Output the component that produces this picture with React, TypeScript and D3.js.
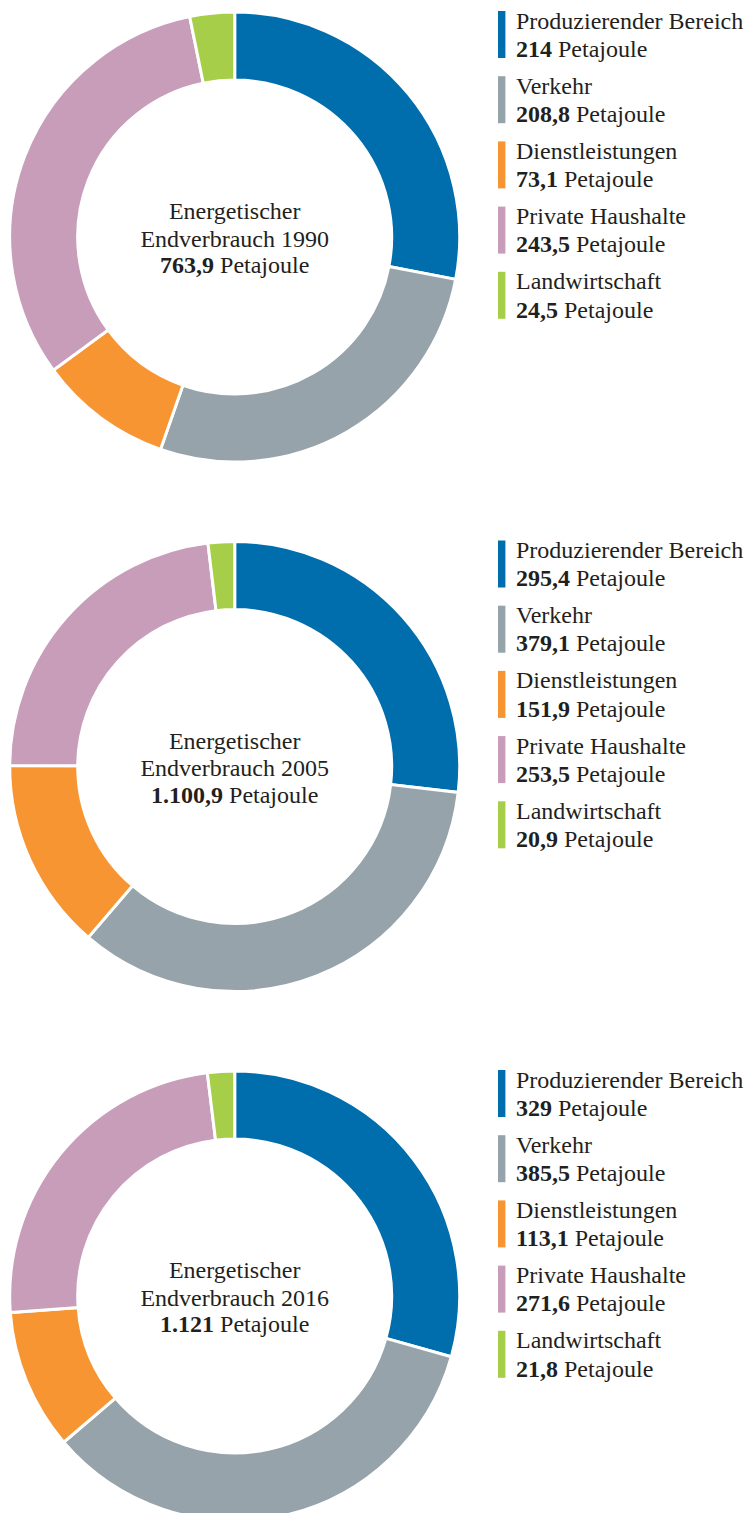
import React from "react";
import * as d3 from "d3";

const categories = [
  "Produzierender Bereich",
  "Verkehr",
  "Dienstleistungen",
  "Private Haushalte",
  "Landwirtschaft",
];
const colors = ["#006dac", "#96a3aa", "#f79533", "#c79dba", "#a7ce48"];
const years = ["1990", "2005", "2016"];
const values1990 = [214, 208.8, 73.1, 243.5, 24.5];
const values2005 = [295.4, 379.1, 151.9, 253.5, 20.9];
const values2016 = [329, 385.5, 113.1, 271.6, 21.8];
const totals = [763.9, 1100.9, 1121];
const seriesList = [values1990, values2005, values2016];

const W = 748;
const H = 1513;
const cx = 234.7;
const centersY = [237, 766.5, 1296];
const rOuter = 225;
const rInner = 157;
const textColor = "#231f20";
const font = "'Liberation Serif', 'DejaVu Serif', serif";

const locale = d3.formatLocale({
  decimal: ",",
  thousands: ".",
  grouping: [3],
  currency: ["", " €"],
});
const f0 = locale.format(",.0f");
const f1 = locale.format(",.1f");
const fmt = (v: number) => (Math.abs(v % 1) < 1e-9 ? f0(v) : f1(v));

export default function App() {
  const pie = d3
    .pie<number>()
    .sort(null)
    .value((d) => d)
    .startAngle(0)
    .endAngle(2 * Math.PI);
  const arc = d3.arc<d3.PieArcDatum<number>>().innerRadius(rInner).outerRadius(rOuter);

  return (
    <svg
      width={W}
      height={H}
      style={{ position: "absolute", left: 0, top: 0, display: "block" }}
      fontFamily={font}
    >
      <rect width={W} height={H} fill="#ffffff" />
      {seriesList.map((vals, i) => {
        const cy = centersY[i];
        const arcs = pie(vals);
        const top = cy - rOuter - 1;
        return (
          <g key={years[i]}>
            <g transform={`translate(${cx},${cy})`}>
              {arcs.map((a, j) => (
                <path
                  key={categories[j]}
                  d={arc(a) || ""}
                  fill={colors[j]}
                  stroke="#ffffff"
                  strokeWidth={3}
                  strokeLinejoin="miter"
                />
              ))}
              <text textAnchor="middle" fontSize={24} fill={textColor}>
                <tspan x={0} y={-17.7}>Energetischer</tspan>
                <tspan x={0} y={9.7}>{`Endverbrauch ${years[i]}`}</tspan>
                <tspan x={0} y={36.3}>
                  <tspan fontWeight="bold">{fmt(totals[i])}</tspan>
                  <tspan> Petajoule</tspan>
                </tspan>
              </text>
            </g>
            <g transform={`translate(0,${top})`}>
              {categories.map((c, j) => {
                const y0 = j * 65.2;
                return (
                  <g key={c} transform={`translate(0,${y0})`}>
                    <rect x={498} y={0} width={7.4} height={47} fill={colors[j]} />
                    <text x={516} y={17.5} fontSize={24} fill={textColor}>
                      {c}
                    </text>
                    <text x={516} y={45.8} fontSize={24} fill={textColor}>
                      <tspan fontWeight="bold">{fmt(vals[j])}</tspan>
                      <tspan> Petajoule</tspan>
                    </text>
                  </g>
                );
              })}
            </g>
          </g>
        );
      })}
    </svg>
  );
}
